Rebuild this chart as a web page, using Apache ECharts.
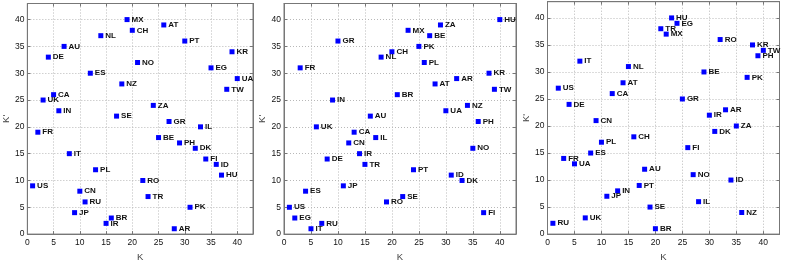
<!DOCTYPE html>
<html><head><meta charset="utf-8">
<script src="https://cdn.jsdelivr.net/npm/echarts@6/dist/echarts.min.js"></script>
<style>html,body{margin:0;padding:0;background:#fff}#c{width:789px;height:267px}</style>
</head><body><div id="c"></div>
<script>
const names1 = ['MX','AT','CH','NL','PT','AU','KR','DE','NO','EG','ES','UA','NZ','TW','CA','UK','ZA','IN','SE','GR','IL','FR','BE','PH','DK','IT','FI','ID','PL','HU','RO','US','CN','TR','RU','PK','JP','BR','IR','AR'];
const k1 =     [19,26,20,14,30,7,39,4,21,35,12,40,18,38,5,3,24,6,17,27,33,2,25,29,32,8,34,36,13,37,22,1,10,23,11,31,9,16,15,28];
const kp1 =    [40,39,38,37,36,35,34,33,32,31,30,29,28,27,26,25,24,23,22,21,20,19,18,17,16,15,14,13,12,11,10,9,8,7,6,5,4,3,2,1];

const names2 = ['HU','ZA','MX','BE','GR','PK','CH','NL','PL','FR','KR','AR','AT','TW','BR','IN','NZ','UA','AU','PH','UK','CA','IL','CN','NO','IR','DE','TR','PT','ID','DK','JP','ES','SE','RO','US','FI','EG','RU','IT'];
const k2 =     [40,29,23,27,10,25,20,18,26,3,38,32,28,39,21,9,34,30,16,36,6,13,17,12,35,14,8,15,24,31,33,11,4,22,19,1,37,2,7,5];
const kp2 =    [40,39,38,37,36,35,34,33,32,31,30,29,28,27,26,25,24,23,22,21,20,19,18,17,16,15,14,13,12,11,10,9,8,7,6,5,4,3,2,1];

const names3 = ['HU','EG','TR','MX','RO','KR','TW','PH','IT','NL','BE','PK','AT','US','CA','GR','DE','AR','IR','CN','ZA','DK','CH','PL','FI','ES','FR','UA','AU','NO','ID','PT','IN','JP','IL','SE','NZ','UK','RU','BR'];
const k3 =     [23,24,21,22,32,38,40,39,6,15,29,37,14,2,12,25,4,33,30,9,35,31,16,10,26,8,3,5,18,27,34,17,13,11,28,19,36,7,1,20];
const kp3 =    [40,39,38,37,36,35,34,33,32,31,30,29,28,27,26,25,24,23,22,21,20,19,18,17,16,15,14,13,12,11,10,9,8,7,6,5,4,3,2,1];

const tickLabels = ['0','5','10','15','20','25','30','35','40'];
const xName = 'K';
const yName = "K'";

const panels = [[names1,k1,kp1],[names2,k2,kp2],[names3,k3,kp3]];
const grids = [
  {left:22, top:3.5, width:231, height:244},
  {left:284, top:3.5, width:232, height:244},
  {left:547.5, top:1.7, width:232, height:244}
];
const axColor = '#777';
function lbl(v){ const s = String(v); return tickLabels.indexOf(s) >= 0 ? s : ''; }
const option = {animation:false, grid:[], xAxis:[], yAxis:[], series:[]};
grids.forEach((g,i)=>{
  option.grid.push(Object.assign({show:true, borderColor:axColor, borderWidth:1, backgroundColor:'#fff', containLabel:false}, g));
  const common = {min:0, max:43, interval:5, gridIndex:i,
    axisLine:{show:true, onZero:false, lineStyle:{color:axColor, width:1}},
    axisTick:{show:true, inside:true, length:3, lineStyle:{color:axColor}},
    splitLine:{show:true, lineStyle:{type:[1,2], color:'#b8b8b8', width:1}},
    axisLabel:{show:true, fontSize:8.5, color:'#111', fontFamily:'Liberation Sans, Arial', formatter:lbl, margin:4, showMaxLabel:false},
    nameTextStyle:{fontSize:9.5, color:'#444', fontFamily:'Liberation Sans, Arial'}
  };
  option.xAxis.push(Object.assign({}, common, {type:'value', position:'bottom', name:xName, nameLocation:'middle', nameGap:16}));
  option.yAxis.push(Object.assign({}, common, {type:'value', position:'left', name:yName, nameLocation:'middle', nameGap:i===0?12:14, axisLabel:Object.assign({}, common.axisLabel, {margin:3})}));
  option.xAxis.push(Object.assign({}, common, {type:'value', position:'top', axisLabel:{show:false}, splitLine:{show:false}, name:''}));
  option.yAxis.push(Object.assign({}, common, {type:'value', position:'right', axisLabel:{show:false}, splitLine:{show:false}, name:''}));
  const [nm, xs, ys] = panels[i];
  option.series.push({
    type:'scatter', xAxisIndex:2*i, yAxisIndex:2*i,
    symbol:'rect', symbolSize:5,
    itemStyle:{color:'#0000ff', opacity:1},
    label:{show:true, position:'right', distance:2, fontSize:8, color:'#111', fontFamily:'Liberation Sans, Arial', fontWeight:'bold',
      formatter:p=>p.data[2]},
    data: nm.map((n,j)=>[xs[j], ys[j], n])
  });
});
const chart = echarts.init(document.getElementById('c'), null, {renderer:'canvas'});
chart.setOption(option);
</script></body></html>
